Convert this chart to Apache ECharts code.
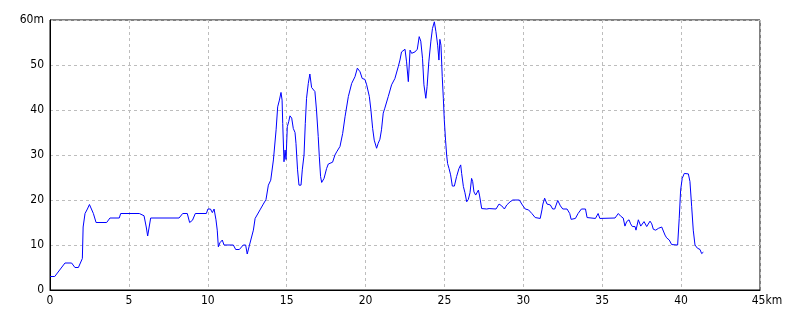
<!DOCTYPE html>
<html>
<head>
<meta charset="utf-8">
<script src="https://cdn.jsdelivr.net/npm/echarts@6/dist/echarts.min.js"></script>
<style>html,body{margin:0;padding:0;background:#fff}#c{width:800px;height:320px}</style>
</head>
<body>
<div id="c"></div>
<script>
const distKm = [0,0.3,0.95,1.37,1.58,1.8,2.05,2.1,2.22,2.37,2.5,2.6,2.75,2.92,3.59,3.8,4.39,4.48,5.66,5.96,6.1,6.19,6.38,8.18,8.41,8.7,8.85,9.03,9.21,9.91,10.01,10.17,10.29,10.4,10.52,10.6,10.67,10.77,10.92,11.03,11.62,11.77,12.0,12.25,12.4,12.5,12.63,12.74,12.89,13.0,13.1,13.31,13.52,13.69,13.84,13.99,14.16,14.33,14.43,14.54,14.64,14.71,14.75,14.83,14.9,14.96,15.04,15.13,15.21,15.32,15.42,15.53,15.59,15.69,15.78,15.91,15.99,16.1,16.18,16.26,16.37,16.47,16.58,16.68,16.79,16.89,17.0,17.07,17.15,17.22,17.37,17.53,17.64,17.91,18.06,18.17,18.38,18.55,18.7,18.91,19.12,19.33,19.48,19.65,19.79,19.96,20.07,20.24,20.34,20.45,20.55,20.7,20.8,20.91,21.01,21.12,21.22,21.44,21.65,21.86,22.07,22.18,22.28,22.5,22.6,22.71,22.82,22.92,23.13,23.28,23.4,23.5,23.61,23.7,23.82,23.9,24.01,24.14,24.24,24.36,24.46,24.57,24.65,24.71,24.78,24.86,24.93,24.99,25.07,25.14,25.2,25.29,25.39,25.5,25.63,25.77,25.92,26.03,26.09,26.2,26.3,26.41,26.51,26.62,26.72,26.79,26.87,26.98,27.15,27.22,27.36,27.68,27.83,28.27,28.46,28.63,28.8,28.95,29.16,29.33,29.75,29.9,30.12,30.33,30.54,30.75,30.86,31.07,31.18,31.24,31.35,31.5,31.71,31.86,31.99,32.18,32.35,32.5,32.77,32.94,33.03,33.3,33.47,33.68,33.94,34.04,34.15,34.57,34.74,34.85,35.81,36.02,36.17,36.33,36.44,36.55,36.7,36.8,36.91,37.08,37.14,37.29,37.44,37.54,37.65,37.82,38.03,38.14,38.24,38.39,38.56,38.66,38.77,38.87,38.98,39.08,39.25,39.4,39.78,39.88,39.97,40.07,40.2,40.46,40.56,40.67,40.77,40.88,41.03,41.2,41.3,41.41];
const elevM = [3,3,6,6,5,5,7,14,17,18,19,19,17,15,15,16,16,17,17,16.5,14,12,16,16,17,17,15,15.5,17,17,18,18,17.2,18,15.6,13.3,9.6,10.5,11.1,10,10,9,9,10,10,8,9.8,10,13.3,15.9,16.3,17.8,19.1,20.1,23.3,24.4,28.9,35.6,40.7,42.2,43.9,42.2,37,28.5,31.1,29,36.3,37.4,38.7,38.2,35.9,35,32.6,26.7,23.3,23.3,26.7,30,37,42.6,45.9,48,45,45.1,44.1,40,34.1,29.6,25.2,23.9,24.8,27,28,28.4,30,30.7,31.9,34.8,38.5,43,45.9,47.4,49.3,48.5,47,46.8,45.6,43,40,35.9,33.3,31.5,32.6,33.5,35.6,39.3,40.4,43,45.6,47,49.6,51.1,52.9,53.5,50.7,46.3,53.3,52.6,52.9,53.5,56.3,55.3,51.5,45.6,42.6,45.2,50.7,55.3,58.1,59.6,57.4,54.4,51.1,55.7,54.4,47.4,42.6,37.8,33.3,30,28.1,27,25.6,23.1,23.1,25.2,27,27.8,25.9,23,21.6,19.6,20.1,21.6,24.8,24.1,21.8,21.1,22.2,21.1,18.1,18,18.1,18,19.1,18.7,18,18.9,19.6,20,20,19.1,18,17.8,17,16.1,15.9,15.9,17.8,19.1,20.4,19.1,18.9,18,18,19.9,18.7,18,18,17,15.7,15.9,17,18,18,16.1,15.9,15.9,17,15.9,16,17,16.4,16,14.2,15.2,15.6,14.7,14.1,14.1,13.3,15.6,14.2,14.4,15.2,14.1,15.3,14.7,13.5,13.3,13.7,13.3,14.0,14.1,12.2,11.6,11.1,10.1,10,15.9,22.2,24.8,25.9,25.8,24.1,18.5,13.3,10,9.3,9,8.1,8.4];
const xTicks = [0,5,10,15,20,25,30,35,40,45];
const yTicks = [0,10,20,30,40,50,60];
const xUnit = 'km';
const yUnit = 'm';

const font = '"Liberation Sans Narrow", "DejaVu Sans Condensed", sans-serif';
const chart = echarts.init(document.getElementById('c'), null, {renderer: 'canvas'});
chart.setOption({
  animation: false,
  backgroundColor: '#fff',
  grid: {left: 50, right: 40, top: 20, bottom: 30, show: true, borderColor: '#000', borderWidth: 1},
  xAxis: {
    type: 'value', min: xTicks[0], max: xTicks[xTicks.length-1], interval: 5,
    axisLine: {show: true, lineStyle: {color: '#000', width: 1}},
    axisTick: {show: false},
    splitLine: {show: true, lineStyle: {color: '#bdbdbd', type: [3, 3], width: 1}},
    axisLabel: {
      color: '#000', fontSize: 12, fontFamily: font, margin: 5,
      formatter: v => v === xTicks[xTicks.length-1] ? '{p|' + v + xUnit + '}' : String(v),
      rich: {p: {color: '#000', fontSize: 12, fontFamily: font, padding: [0, 0, 0, 14]}}
    }
  },
  yAxis: {
    type: 'value', min: yTicks[0], max: yTicks[yTicks.length-1], interval: 10,
    axisLine: {show: true, lineStyle: {color: '#000', width: 1}},
    axisTick: {show: false},
    splitLine: {show: true, lineStyle: {color: '#bdbdbd', type: [3, 3], width: 1}},
    axisLabel: {
      color: '#000', fontSize: 12, fontFamily: font, margin: 6,
      formatter: v => v === yTicks[yTicks.length-1] ? v + yUnit : String(v)
    }
  },
  series: [{
    type: 'line',
    data: distKm.map((d, i) => [d, elevM[i]]),
    showSymbol: false,
    symbol: 'none',
    lineStyle: {color: '#0000ff', width: 1},
    itemStyle: {color: '#0000ff'}
  }]
});
</script>
</body>
</html>
